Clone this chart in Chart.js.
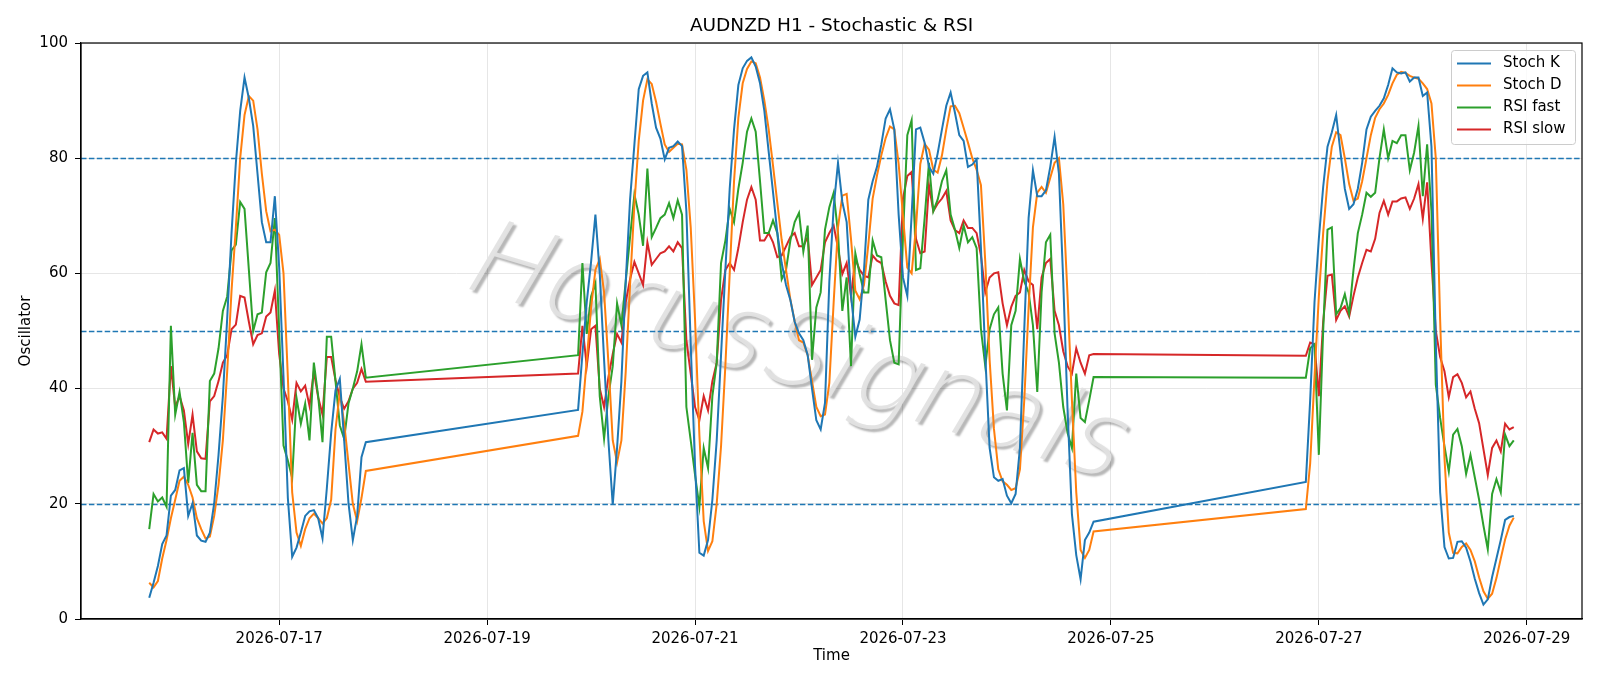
<!DOCTYPE html>
<html>
<head>
<meta charset="utf-8">
<title>AUDNZD H1 - Stochastic & RSI</title>
<script src="https://cdn.jsdelivr.net/npm/chart.js@4.4.1/dist/chart.umd.min.js"></script>
<style>
    html, body { margin: 0; padding: 0; background: #ffffff; }
    #wrap { width: 1600px; height: 686px; }
</style>
</head>
<body>
<div id="wrap"><canvas id="oscChart" width="1600" height="686"></canvas></div>
<script>
// H1 bars, three trading sessions - the weekend gaps are simply joined by the lines
const sessionStarts = ['2026-07-15T18:00:00Z', '2026-07-19T21:00:00Z', '2026-07-26T21:00:00Z'];
const sessionLengths = [51, 120, 49];

const stochK = [
    // 15-17 Jul
    3.7, 6.3, 9.2, 13.0, 14.5, 21.4, 22.4, 25.8, 26.2, 17.9,
    20.1, 14.5, 13.6, 13.4, 15.0, 20.1, 28.5, 38.7, 52.2, 67.0,
    79.2, 88.2, 94.0, 90.4, 85.6, 77.3, 68.9, 65.4, 65.4, 73.4,
    61.0, 42.0, 21.0, 10.8, 12.4, 15.0, 17.9, 18.7, 18.9, 17.5,
    14.0, 22.7, 32.3, 39.7, 41.7, 31.0, 20.1, 13.7, 17.9, 28.1,
    30.7,
    // 19-24 Jul
    36.3, 46.0, 55.0, 62.0, 70.2, 60.0, 45.0, 31.0, 19.8, 29.7,
    41.3, 58.6, 72.8, 82.4, 92.0, 94.3, 94.9, 89.5, 85.3, 83.4,
    79.8, 81.8, 82.1, 82.9, 82.1, 70.8, 47.7, 26.5, 11.5, 11.0,
    13.7, 20.7, 31.0, 45.8, 60.6, 74.7, 85.0, 92.7, 95.6, 96.9,
    97.5, 95.9, 93.0, 88.2, 81.1, 74.1, 67.0, 61.8, 58.0, 55.4,
    51.6, 49.6, 48.4, 45.8, 40.0, 34.5, 32.9, 37.5, 58.6, 71.5,
    79.2, 72.4, 68.9, 56.1, 49.0, 52.0, 60.6, 72.8, 76.0, 78.5,
    82.4, 86.9, 88.5, 85.0, 70.2, 59.3, 56.1, 70.2, 85.0, 85.3,
    82.7, 78.5, 77.3, 80.8, 85.0, 89.1, 91.4, 87.9, 84.0, 83.0,
    78.5, 78.9, 79.8, 64.4, 45.8, 29.7, 24.6, 24.0, 24.3, 21.4,
    20.1, 21.7, 29.7, 50.3, 69.6, 77.9, 73.4, 73.4, 74.4, 78.5,
    83.7, 77.3, 58.6, 36.2, 18.2, 11.1, 6.9, 13.7, 15.0, 16.9,
    // 26-28 Jul
    23.8, 38.0, 55.0, 66.0, 75.0, 82.0, 84.5, 87.5, 81.0, 74.7,
    71.2, 72.0, 74.7, 79.2, 85.0, 87.2, 88.2, 89.1, 90.4, 92.7,
    95.6, 94.9, 94.7, 94.9, 93.3, 94.0, 94.0, 90.8, 91.4, 82.0,
    48.0, 22.0, 12.5, 10.5, 10.6, 13.4, 13.5, 12.4, 10.0, 7.0,
    4.5, 2.5, 3.4, 7.3, 10.5, 13.7, 17.2, 17.7, 17.9
];

const stochD = [
    6.3, 5.5, 6.6, 10.5, 13.7, 17.5, 20.7, 24.0, 24.7, 23.3,
    21.1, 17.5, 15.6, 14.0, 14.3, 17.9, 23.3, 31.0, 43.0, 57.0,
    68.0, 80.0, 87.5, 90.8, 90.0, 85.0, 77.3, 70.8, 67.3, 67.6,
    66.7, 60.0, 42.0, 22.0, 15.0, 12.7, 15.6, 17.5, 18.3, 17.5,
    16.6, 17.5, 20.7, 32.9, 39.4, 34.0, 27.0, 20.0, 17.0, 21.0,
    25.7,

    31.8, 36.0, 45.0, 54.0, 60.6, 62.5, 56.7, 44.5, 31.0, 27.2,
    31.0, 43.0, 58.0, 72.0, 83.0, 90.0, 93.7, 92.9, 89.8, 86.0,
    82.4, 81.1, 81.8, 82.5, 82.4, 78.0, 68.0, 52.0, 32.0, 17.0,
    11.8, 13.5, 20.0, 30.0, 44.0, 60.0, 76.0, 87.0, 93.0, 95.5,
    96.8, 96.5, 94.0, 90.0, 85.0, 78.7, 72.2, 65.8, 60.6, 55.5,
    51.7, 48.4, 48.0, 45.8, 41.3, 36.8, 35.2, 35.5, 41.0, 55.0,
    68.0, 73.5, 73.8, 66.0, 57.0, 55.5, 58.0, 65.0, 73.0, 77.0,
    80.5, 83.5, 85.5, 85.0, 79.0, 70.0, 61.0, 60.0, 68.0, 79.0,
    82.5, 81.5, 78.0, 77.5, 80.5, 85.0, 89.0, 89.1, 87.8, 85.3,
    82.7, 80.0, 78.0, 75.3, 62.0, 45.0, 33.0, 26.0, 23.9, 23.3,
    22.4, 22.7, 26.0, 38.0, 54.0, 68.0, 74.0, 75.0, 74.0, 76.6,
    79.2, 80.0, 72.0, 56.0, 38.0, 22.0, 12.0, 10.6, 12.0, 15.2,

    19.1, 27.0, 42.0, 56.0, 67.0, 76.0, 82.0, 84.5, 84.0, 80.0,
    75.5, 72.6, 73.0, 76.0, 80.0, 84.0, 87.0, 88.5, 89.5, 91.0,
    93.0, 94.5, 95.0, 94.8, 94.3, 94.0, 93.8, 93.0, 92.0, 89.5,
    80.0, 52.0, 28.0, 15.0, 11.5, 11.4, 12.5, 13.1, 12.0, 10.0,
    7.2, 4.8, 3.5, 4.4, 7.1, 10.5, 13.8, 16.2, 17.6
];

const rsiFast = [
    15.6, 21.7, 20.4, 21.1, 19.5, 50.9, 35.5, 39.4, 34.2, 23.6,
    32.3, 23.3, 22.2, 22.2, 41.3, 42.6, 47.0, 53.5, 56.0, 64.0,
    65.0, 72.4, 71.2, 60.6, 50.0, 52.9, 53.2, 60.2, 61.8, 69.6,
    50.0, 30.1, 27.5, 24.5, 38.4, 33.9, 37.4, 31.0, 44.5, 38.7,
    30.7, 49.0, 49.0, 41.3, 33.6, 31.3, 37.4, 40.0, 43.0, 47.7,
    41.9,

    45.8, 61.8, 49.5, 56.0, 58.3, 38.7, 31.3, 38.7, 43.9, 54.8,
    51.0, 58.6, 66.3, 73.7, 70.2, 64.8, 78.2, 66.3, 67.9, 69.6,
    70.2, 72.2, 69.6, 72.7, 70.2, 36.8, 31.0, 25.0, 19.5, 29.7,
    26.2, 38.7, 44.5, 61.8, 65.7, 71.2, 68.9, 74.7, 79.2, 84.6,
    86.9, 84.6, 76.0, 67.0, 67.0, 69.2, 67.0, 59.0, 60.6, 65.7,
    68.9, 70.5, 63.8, 68.3, 45.0, 54.1, 56.7, 67.6, 71.5, 74.0,
    67.0, 53.5, 59.3, 43.9, 63.5, 59.9, 56.7, 56.7, 65.7, 63.1,
    62.8, 55.4, 48.4, 44.5, 44.2, 66.3, 84.0, 86.6, 60.6, 60.9,
    69.6, 79.2, 70.8, 72.8, 76.0, 77.9, 70.2, 67.6, 64.4, 68.3,
    65.4, 66.3, 64.4, 50.3, 43.9, 50.3, 52.9, 54.1, 42.6, 36.2,
    51.0, 53.5, 62.5, 58.6, 56.7, 51.0, 39.4, 56.7, 65.4, 66.7,
    49.6, 44.5, 36.8, 32.3, 29.7, 42.6, 34.9, 34.2, 38.0, 42.0,

    41.9, 47.0, 47.7, 28.5, 50.0, 67.6, 68.0, 52.9, 54.0, 56.4,
    53.0, 60.6, 67.0, 70.2, 74.0, 73.3, 74.0, 80.0, 85.0, 80.0,
    83.0, 82.6, 84.0, 84.0, 77.9, 81.0, 85.6, 73.4, 82.4, 70.8,
    40.7, 34.9, 30.0, 25.6, 32.0, 33.0, 30.0, 25.2, 28.5, 24.6,
    20.7, 16.2, 12.1, 21.7, 24.3, 22.0, 32.0, 30.0, 31.0
];

const rsiSlow = [
    30.7, 32.9, 32.2, 32.4, 31.3, 43.9, 36.8, 38.7, 36.2, 30.4,
    35.5, 29.1, 27.9, 27.8, 37.8, 38.7, 41.3, 44.5, 45.8, 50.3,
    51.1, 56.1, 55.8, 51.6, 47.7, 49.3, 49.6, 52.5, 53.2, 57.0,
    46.0, 40.0, 37.8, 34.6, 41.0, 39.5, 40.5, 37.0, 43.0, 38.5,
    35.5, 45.5, 45.5, 41.5, 38.5, 36.5, 37.8, 40.0, 41.0, 43.4,
    41.2,

    42.6, 50.9, 43.9, 50.3, 50.9, 40.0, 36.8, 42.0, 46.0, 49.5,
    48.0, 55.0, 59.0, 62.0, 60.0, 58.0, 65.4, 61.5, 62.5, 63.5,
    63.8, 64.7, 63.8, 65.4, 64.4, 48.4, 42.6, 36.8, 34.5, 38.7,
    36.2, 41.3, 44.5, 55.4, 60.6, 61.8, 60.6, 64.4, 68.9, 72.8,
    75.0, 72.8, 65.7, 65.7, 67.0, 65.4, 62.8, 63.1, 64.7, 66.3,
    67.0, 64.7, 64.7, 66.3, 58.0, 59.3, 60.6, 65.4, 67.0, 68.3,
    64.4, 59.9, 61.8, 56.1, 62.5, 60.6, 59.6, 59.3, 63.1, 62.2,
    61.8, 58.6, 56.1, 54.8, 54.5, 73.0, 76.9, 77.6, 66.0, 63.5,
    63.8, 75.3, 70.8, 72.1, 73.0, 74.3, 69.2, 67.5, 67.0, 69.2,
    67.9, 67.9, 67.0, 63.1, 56.7, 59.3, 60.0, 60.2, 54.8, 51.0,
    54.2, 56.1, 56.7, 60.6, 58.6, 58.0, 50.3, 59.3, 61.8, 62.5,
    53.5, 51.0, 46.5, 43.9, 42.6, 47.0, 44.5, 42.6, 45.8, 46.0,

    45.7, 48.0, 47.7, 38.7, 51.6, 59.6, 59.8, 51.9, 53.5, 54.3,
    52.5, 56.1, 59.3, 61.8, 64.1, 63.8, 66.0, 70.5, 72.6, 70.2,
    72.5, 72.5, 73.0, 73.2, 71.2, 73.0, 75.5, 69.5, 75.8, 62.0,
    50.0, 45.5, 43.0, 38.5, 42.0, 42.5, 41.0, 38.5, 39.5, 36.5,
    34.0, 29.5, 25.0, 29.7, 31.0, 29.1, 33.9, 32.9, 33.3
];

const seriesNames = ['Stoch K', 'Stoch D', 'RSI fast', 'RSI slow'];
const seriesColors = ['#1f77b4', '#ff7f0e', '#2ca02c', '#d62728'];
const tickDates = ['2026-07-17', '2026-07-19', '2026-07-21', '2026-07-23', '2026-07-25', '2026-07-27', '2026-07-29'];
const yTicks = [0, 20, 40, 60, 80, 100];
const levels = [20, 50, 80];

const FONT = '"DejaVu Sans", "Liberation Sans", sans-serif';
const THIN_FONT = '"DejaVu Sans ExtraLight", "DejaVu Sans Light", Inter, Roboto, "DejaVu Sans", sans-serif';
const HOUR = 3600 * 1000;
const origin = Date.parse('2026-07-15T00:00:00Z');

// x values are hours since 15 Jul 00:00 UTC
const times = [];
sessionStarts.forEach((s, i) => {
    const t0 = Date.parse(s);
    for (let n = 0; n < sessionLengths[i]; n++) {
        times.push((t0 + n * HOUR - origin) / HOUR);
    }
});
const tickValues = tickDates.map(d => (Date.parse(d + 'T00:00:00Z') - origin) / HOUR);
const span = times[times.length - 1] - times[0];
const xMin = times[0] - span * 0.05;
const xMax = times[times.length - 1] + span * 0.05;

function toPoints(values) {
    return values.map((v, i) => ({ x: times[i], y: v }));
}

const seriesValues = [stochK, stochD, rsiFast, rsiSlow];

// watermark, level lines, frame, legend and title
const decorPlugin = {
    id: 'decor',
    beforeDatasetsDraw(chart) {
        const ctx = chart.ctx;
        const area = chart.chartArea;
        const y = chart.scales.y;

        // watermark
        ctx.save();
        ctx.beginPath();
        ctx.rect(area.left, area.top, area.right - area.left, area.bottom - area.top);
        ctx.clip();
        ctx.translate(783, 382);
        ctx.rotate(16.5 * Math.PI / 180);
        let size = 104;
        ctx.font = 'italic 200 ' + size + 'px ' + THIN_FONT;
        const w = ctx.measureText('HorusSignals').width;
        size = size * 680 / w;
        ctx.font = 'italic 200 ' + size.toFixed(1) + 'px ' + THIN_FONT;
        ctx.textAlign = 'center';
        ctx.textBaseline = 'alphabetic';
        ctx.shadowColor = 'rgba(0, 0, 0, 0.3)';
        ctx.shadowOffsetX = 3;
        ctx.shadowOffsetY = 3;
        ctx.shadowBlur = 2;
        ctx.fillStyle = 'rgba(225, 225, 225, 0.95)';
        ctx.fillText('HorusSignals', 0, 0);
        ctx.restore();

        // 20 / 50 / 80 levels
        ctx.save();
        ctx.strokeStyle = '#1f77b4';
        ctx.lineWidth = 1.5;
        ctx.setLineDash([5.5, 2.4]);
        levels.forEach(lv => {
            const py = Math.round(y.getPixelForValue(lv)) + 0.5;
            ctx.beginPath();
            ctx.moveTo(area.left, py);
            ctx.lineTo(area.right, py);
            ctx.stroke();
        });
        ctx.restore();
    },
    afterDraw(chart) {
        const ctx = chart.ctx;
        const area = chart.chartArea;

        // frame
        ctx.save();
        ctx.strokeStyle = '#000000';
        ctx.lineWidth = 1.2;
        ctx.strokeRect(area.left, area.top, area.right - area.left, area.bottom - area.top);
        ctx.restore();

        // title
        ctx.save();
        ctx.fillStyle = '#000000';
        ctx.font = '18.5px ' + FONT;
        ctx.textAlign = 'center';
        ctx.textBaseline = 'middle';
        ctx.fillText('AUDNZD H1 - Stochastic & RSI', (area.left + area.right) / 2, 26);
        ctx.restore();

        // legend
        const boxRight = area.right - 7;
        const boxLeft = boxRight - 124;
        const boxTop = area.top + 7;
        const boxH = 94;
        ctx.save();
        ctx.beginPath();
        ctx.roundRect(boxLeft + 0.5, boxTop + 0.5, boxRight - boxLeft, boxH, 3);
        ctx.fillStyle = 'rgba(255, 255, 255, 0.8)';
        ctx.fill();
        ctx.strokeStyle = '#cccccc';
        ctx.lineWidth = 1;
        ctx.stroke();
        ctx.font = '15px ' + FONT;
        ctx.textAlign = 'left';
        ctx.textBaseline = 'middle';
        seriesNames.forEach((name, i) => {
            const cy = boxTop + 13.5 + i * 22;
            ctx.strokeStyle = seriesColors[i];
            ctx.lineWidth = 2;
            ctx.beginPath();
            ctx.moveTo(boxLeft + 6, cy);
            ctx.lineTo(boxLeft + 40, cy);
            ctx.stroke();
            ctx.fillStyle = '#000000';
            ctx.fillText(name, boxLeft + 52, cy);
        });
        ctx.restore();
    }
};

const ctx = document.getElementById('oscChart').getContext('2d');
const oscChart = new Chart(ctx, {
    type: 'line',
    data: {
        datasets: seriesNames.map((name, i) => ({
            label: name,
            data: toPoints(seriesValues[i]),
            borderColor: seriesColors[i],
            backgroundColor: seriesColors[i],
            borderWidth: 2,
            pointRadius: 0,
            tension: 0,
            fill: false
        }))
    },
    options: {
        responsive: false,
        animation: false,
        devicePixelRatio: 1,
        layout: {
            padding: { top: 43, right: 18, left: 0, bottom: 0 }
        },
        plugins: {
            legend: { display: false },
            title: { display: false },
            tooltip: { enabled: false }
        },
        scales: {
            x: {
                type: 'linear',
                min: xMin,
                max: xMax,
                afterBuildTicks: scale => {
                    scale.ticks = tickValues.map(v => ({ value: v }));
                },
                afterFit: scale => { scale.height = 67; },
                grid: {
                    color: '#e6e6e6',
                    lineWidth: 1,
                    drawTicks: true,
                    tickLength: 6,
                    tickColor: '#000000'
                },
                border: { display: true, color: '#000000', width: 1.2 },
                ticks: {
                    autoSkip: false,
                    maxRotation: 0,
                    padding: 5,
                    color: '#000000',
                    font: { family: FONT, size: 15 },
                    callback: value => new Date(origin + value * HOUR).toISOString().slice(0, 10)
                },
                title: {
                    display: true,
                    text: 'Time',
                    color: '#000000',
                    font: { family: FONT, size: 15 },
                    padding: { top: 0, bottom: 21 }
                }
            },
            y: {
                min: 0,
                max: 100,
                afterBuildTicks: scale => {
                    scale.ticks = yTicks.map(v => ({ value: v }));
                },
                afterFit: scale => { scale.width = 81; },
                grid: {
                    color: '#e6e6e6',
                    lineWidth: 1,
                    drawTicks: true,
                    tickLength: 6,
                    tickColor: '#000000'
                },
                border: { display: true, color: '#000000', width: 1.2 },
                ticks: {
                    padding: 7,
                    color: '#000000',
                    font: { family: FONT, size: 15 }
                },
                title: {
                    display: true,
                    text: 'Oscillator',
                    color: '#000000',
                    font: { family: FONT, size: 15 },
                    padding: { top: 17, bottom: 0 }
                }
            }
        }
    },
    plugins: [decorPlugin]
});
</script>
</body>
</html>
